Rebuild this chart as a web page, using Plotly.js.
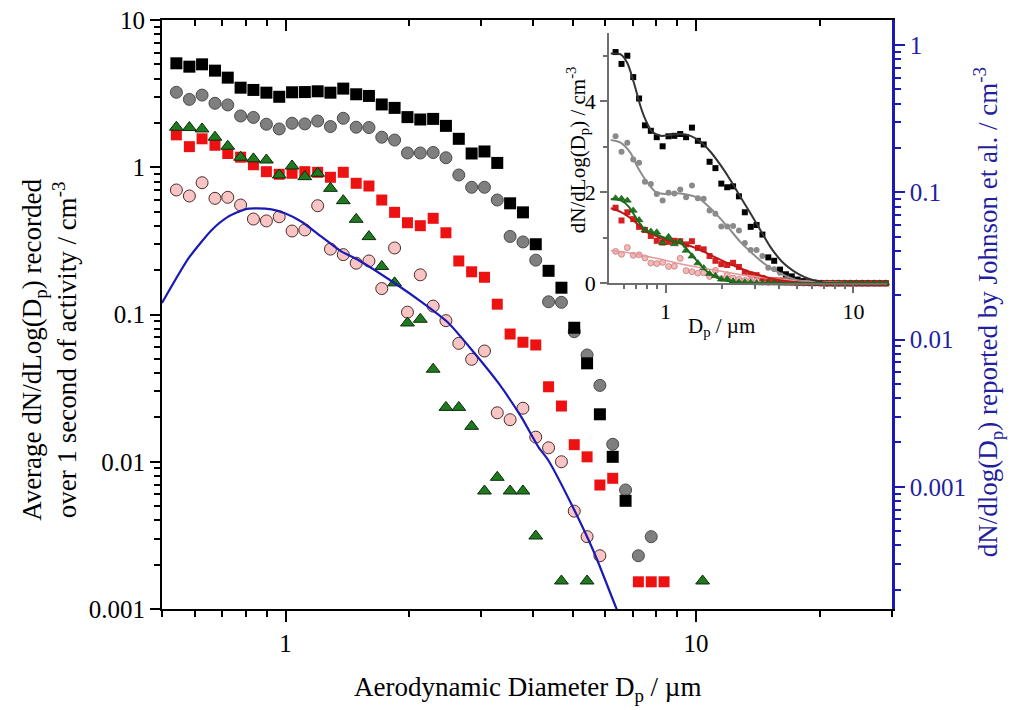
<!DOCTYPE html>
<html><head><meta charset="utf-8">
<script src="https://cdn.plot.ly/plotly-3.0.1.min.js"></script>
<style>html,body{margin:0;padding:0;background:#fff;font-family:'Liberation Serif'}#chart{width:1012px;height:710px}</style>
</head><body><div id="chart"></div>
<script>
// APS channel mid-point diameters (µm)
const channels = [0.542,0.583,0.626,0.673,0.723,0.777,0.835,0.898,0.965,1.037,1.114,1.197,1.286,1.382,1.486,1.596,1.715,1.843,1.981,2.129,2.288,2.458,2.642,2.839,3.051,3.278,3.523,3.786,4.068,4.371,4.698,5.048,5.425,5.829,6.264,6.732,7.234,7.774,8.354,8.977,9.647,10.37,11.14,11.97,12.86,13.82,14.86];

// dN/dLog(Dp) per channel (null = no count)
const blackSquares = [5.08,4.82,5.00,4.53,4.06,3.47,3.35,3.21,3.01,3.23,3.24,3.28,3.21,3.42,3.13,3.05,2.67,2.53,2.19,2.11,2.13,1.91,1.56,1.24,1.28,1.07,0.569,0.494,0.300,0.198,0.152,0.0813,0.0466,0.0210,0.0108,0.00543];
const grayCircles = [3.23,2.89,3.09,2.72,2.65,2.23,2.18,1.96,1.82,1.99,1.97,2.06,1.89,2.15,1.87,1.86,1.60,1.53,1.25,1.25,1.26,1.16,0.886,0.731,0.731,0.599,0.339,0.311,0.234,0.122,0.121,0.0764,0.0531,0.0330,0.01314,0.00643,0.0023,0.0031];
const redSquares = [1.66,1.38,1.56,1.41,1.24,1.17,1.04,0.933,0.896,0.910,0.933,0.924,0.855,0.924,0.778,0.746,0.599,0.494,0.420,0.401,0.450,0.359,0.231,0.195,0.179,0.1175,0.0737,0.0648,0.0621,0.0323,0.0239,0.01306,0.0108,0.00695,0.00772,null,0.00153,0.00153,0.00153];
const greenTriangles = [1.87,1.86,1.82,1.60,1.39,1.17,1.14,1.12,0.886,1.02,0.863,0.910,0.719,0.593,0.443,0.338,0.212,0.164,0.0876,0.0928,0.0425,0.0234,0.0234,0.0174,0.00633,0.00784,0.00633,0.00633,0.00313,null,0.00155,null,0.00155,null,null,null,null,null,null,null,null,0.00155];
const pinkCircles = [0.701,0.638,0.785,0.615,0.625,0.554,0.445,0.432,0.461,0.369,0.375,0.548,0.278,0.255,0.223,0.231,0.150,0.283,0.1037,0.186,0.114,0.0908,0.0637,0.0496,0.0565,0.0215,0.0193,0.0231,0.0147,0.01244,0.0100,0.00462,0.0031,0.0023];

// Johnson et al. distribution (right axis)
const johnsonX = [0.5,0.581,0.661,0.725,0.796,0.842,0.924,0.996,1.094,1.223,1.369,1.503,1.841,2.142,2.493,2.883,3.298,3.75,4.13,4.36,5.05,5.65,6.39,6.8];
const johnsonY = [0.0177,0.0358,0.0555,0.0683,0.0766,0.0778,0.0766,0.0720,0.0631,0.0499,0.0395,0.0347,0.0242,0.0180,0.01295,0.0081,0.00507,0.00298,0.00186,0.00152,0.000695,0.000355,0.00015,0.0001];

// Inset fitted curves (linear scale)
const fitBlackX = [0.511,0.577,0.626,0.679,0.737,0.783,0.850,0.941,1.063,1.201,1.358,1.534,1.734,1.959,2.213,2.50,2.83,3.195,3.61,4.25,5.43,6.93,10,15];
const fitBlackY = [5.05,5.03,4.84,4.40,3.88,3.59,3.33,3.24,3.26,3.28,3.24,3.11,2.89,2.60,2.27,1.90,1.54,1.17,0.80,0.44,0.145,0.02,0,0];
const fitGrayX = [0.511,0.577,0.652,0.708,0.783,0.885,1.0,1.153,1.33,1.50,1.70,1.92,2.17,2.50,2.89,3.33,3.92,5.0,6.93,10,15];
const fitGrayY = [3.15,3.09,2.86,2.56,2.27,2.01,1.96,1.98,1.94,1.87,1.68,1.46,1.21,0.91,0.66,0.44,0.255,0.07,0,0,0];
const fitRedX = [0.511,0.577,0.652,0.737,0.832,0.941,1.107,1.303,1.534,1.806,2.126,2.50,2.94,3.61,4.61,6.1,10,15];
const fitRedY = [1.65,1.57,1.43,1.24,1.10,0.99,0.91,0.84,0.73,0.585,0.45,0.33,0.22,0.11,0.035,0,0,0];
const fitGreenX = [0.511,0.577,0.638,0.708,0.783,0.904,1.063,1.201,1.358,1.534,1.734,1.959,2.31,2.83,5,10,15];
const fitGreenY = [1.85,1.82,1.68,1.39,1.17,1.06,0.95,0.88,0.66,0.40,0.20,0.09,0.03,0,0,0,0];
const fitPinkX = [0.511,0.708,0.98,1.358,1.88,2.606,3.61,5.0,7.52,12.3,15];
const fitPinkY = [0.72,0.64,0.51,0.38,0.28,0.18,0.11,0.06,0.02,0,0];

// Tick values / labels
const xMajor = [1,10], xMajorText = ['1','10'];
const xMinor = [0.5,0.6,0.7,0.8,0.9,2,3,4,5,6,7,8,9,20,30];
const yMajor = [0.001,0.01,0.1,1,10], yMajorText = ['0.001','0.01','0.1','1','10'];
const yMinor = [0.002,0.003,0.004,0.005,0.006,0.007,0.008,0.009,0.02,0.03,0.04,0.05,0.06,0.07,0.08,0.09,0.2,0.3,0.4,0.5,0.6,0.7,0.8,0.9,2,3,4,5,6,7,8,9];
const y2Major = [0.001,0.01,0.1,1], y2MajorText = ['0.001','0.01','0.1','1'];
const y2Minor = [0.0002,0.0003,0.0004,0.0005,0.0006,0.0007,0.0008,0.0009,0.002,0.003,0.004,0.005,0.006,0.007,0.008,0.009,0.02,0.03,0.04,0.05,0.06,0.07,0.08,0.09,0.2,0.3,0.4,0.5,0.6,0.7,0.8,0.9];
const insetXMajor = [1,10], insetXText = ['1','10'];
const insetXMinor = [0.6,0.7,0.8,0.9,2,3,4,5,6,7,8,9];
const insetYMajor = [0,2,4], insetYText = ['0','2','4'];
const insetYMinor = [1,3,5];

const FONT = 'Liberation Serif';
const BLUE = '#1a1ab4';

function mainSeries(vals, symbol, size, color, lineColor, lineWidth) {
  return {x: channels.slice(0, vals.length), y: vals, xaxis: 'x', yaxis: 'y', type: 'scatter', mode: 'markers',
    marker: {symbol: symbol, size: size, color: color, line: {color: lineColor, width: lineWidth}},
    hoverinfo: 'skip', showlegend: false, cliponaxis: false};
}
function insetSeries(vals, symbol, size, color, lineColor, lineWidth) {
  return {x: channels, y: channels.map((_, i) => (vals[i] == null ? 0 : vals[i])), xaxis: 'x3', yaxis: 'y3',
    type: 'scatter', mode: 'markers',
    marker: {symbol: symbol, size: size, color: color, line: {color: lineColor, width: lineWidth}},
    hoverinfo: 'skip', showlegend: false, cliponaxis: false};
}
function fitLine(xs, ys, color, width) {
  return {x: xs, y: ys, xaxis: 'x3', yaxis: 'y3', type: 'scatter', mode: 'lines',
    line: {color: color, width: width, shape: 'spline', smoothing: 0.8}, hoverinfo: 'skip', showlegend: false};
}

const traces = [
  mainSeries(grayCircles, 'circle', 12, '#7f7f7f', '#4a4a4a', 1),
  mainSeries(blackSquares, 'square', 12, '#000000', '#000000', 0),
  mainSeries(pinkCircles, 'circle', 12, '#f8c4c4', '#4d2b2b', 1),
  mainSeries(redSquares, 'square', 11, '#ee1111', '#ee1111', 0),
  mainSeries(greenTriangles, 'triangle-up', 12, '#1f7a1f', '#0a2a0a', 1),
  {x: johnsonX, y: johnsonY, xaxis: 'x2', yaxis: 'y2', type: 'scatter', mode: 'lines',
   line: {color: BLUE, width: 2.2, shape: 'spline', smoothing: 0.6}, hoverinfo: 'skip', showlegend: false},
  // inset
  insetSeries(pinkCircles, 'circle', 6, '#f3b8b8', '#c07070', 0.7),
  insetSeries(grayCircles, 'circle', 6, '#8a8a8a', '#8a8a8a', 0),
  insetSeries(blackSquares, 'square', 6, '#000000', '#000000', 0),
  insetSeries(redSquares, 'square', 6, '#d42020', '#d42020', 0),
  insetSeries(greenTriangles, 'triangle-up', 7, '#1d7a1d', '#0c3a0c', 0.5),
  fitLine(fitPinkX, fitPinkY, '#e49a9a', 1.6),
  fitLine(fitGrayX, fitGrayY, '#8c8c8c', 2),
  fitLine(fitBlackX, fitBlackY, '#333333', 2),
  fitLine(fitRedX, fitRedY, '#c01818', 2),
  fitLine(fitGreenX, fitGreenY, '#1a6e1a', 2)
];

const xRange = [Math.log10(0.5), Math.log10(30)];
const layout = {
  width: 1012, height: 710,
  margin: {l: 162, r: 120, t: 20, b: 101, pad: 0},
  paper_bgcolor: '#ffffff', plot_bgcolor: 'rgba(0,0,0,0)',
  font: {family: FONT, size: 22, color: '#000'},
  showlegend: false, hovermode: false,
  xaxis: {type: 'log', range: xRange, showline: true, linecolor: '#000', linewidth: 2, mirror: false,
    ticks: 'outside', ticklen: 11, tickwidth: 2, tickcolor: '#000', tickmode: 'array', tickvals: xMajor, ticktext: xMajorText,
    minor: {tickmode: 'array', tickvals: xMinor, ticks: 'outside', ticklen: 6, tickwidth: 2, tickcolor: '#000', showgrid: false},
    tickfont: {family: FONT, size: 25, color: '#000'}, showgrid: false, zeroline: false, anchor: 'y'},
  xaxis2: {type: 'log', range: xRange, overlaying: 'x', side: 'top', anchor: 'y2', showline: true, linecolor: '#000', linewidth: 2,
    ticks: 'inside', ticklen: 11, tickwidth: 2, tickcolor: '#000', tickmode: 'array', tickvals: xMajor, showticklabels: false,
    minor: {tickmode: 'array', tickvals: xMinor, ticks: 'inside', ticklen: 6, tickwidth: 2, tickcolor: '#000', showgrid: false},
    showgrid: false, zeroline: false},
  yaxis: {type: 'log', range: [-3, 1], showline: true, linecolor: '#000', linewidth: 2,
    ticks: 'outside', ticklen: 10, tickwidth: 2, tickcolor: '#000', tickmode: 'array', tickvals: yMajor, ticktext: yMajorText,
    minor: {tickmode: 'array', tickvals: yMinor, ticks: 'outside', ticklen: 6, tickwidth: 2, tickcolor: '#000', showgrid: false},
    tickfont: {family: FONT, size: 25, color: '#000'}, showgrid: false, zeroline: false, anchor: 'x'},
  yaxis2: {type: 'log', range: [-3.83, 0.17], overlaying: 'y', side: 'right', anchor: 'x2', showline: true, linecolor: BLUE, linewidth: 2.5,
    ticks: 'outside', ticklen: 10, tickwidth: 2, tickcolor: BLUE, tickmode: 'array', tickvals: y2Major, ticktext: y2MajorText,
    minor: {tickmode: 'array', tickvals: y2Minor, ticks: 'outside', ticklen: 6, tickwidth: 2, tickcolor: BLUE, showgrid: false},
    tickfont: {family: FONT, size: 25, color: '#1f1fa0'}, showgrid: false, zeroline: false},
  xaxis3: {type: 'log', domain: [0.6123, 0.9925], range: [Math.log10(0.5), Math.log10(15)], anchor: 'y3',
    showline: true, linecolor: '#6e6e6e', linewidth: 1.5, ticks: 'outside', ticklen: 8, tickwidth: 1.5, tickcolor: '#6e6e6e',
    tickmode: 'array', tickvals: insetXMajor, ticktext: insetXText,
    minor: {tickmode: 'array', tickvals: insetXMinor, ticks: 'outside', ticklen: 4, tickwidth: 1.5, tickcolor: '#6e6e6e', showgrid: false},
    tickfont: {family: FONT, size: 22, color: '#000'}, showgrid: false, zeroline: false},
  yaxis3: {domain: [0.553, 0.978], range: [0, 5.5], anchor: 'x3',
    showline: true, linecolor: '#6e6e6e', linewidth: 1.5, ticks: 'outside', ticklen: 7, tickwidth: 1.5, tickcolor: '#6e6e6e',
    tickmode: 'array', tickvals: insetYMajor, ticktext: insetYText,
    minor: {tickmode: 'array', tickvals: insetYMinor, ticks: 'outside', ticklen: 4, tickwidth: 1.5, tickcolor: '#6e6e6e', showgrid: false},
    tickfont: {family: FONT, size: 22, color: '#000'}, showgrid: false, zeroline: false},
  annotations: [
    {text: 'Aerodynamic Diameter D<sub>p</sub> / µm', xref: 'paper', yref: 'paper', x: 0.5, y: -0.1358,
     xanchor: 'center', yanchor: 'middle', showarrow: false, font: {family: FONT, size: 27, color: '#000'}},
    {text: 'Average dN/dLog(D<sub>p</sub>) recorded<br>over 1 second of activity / cm<sup>-3</sup>', xref: 'paper', yref: 'paper',
     x: -0.1534, y: 0.44, xanchor: 'center', yanchor: 'middle', textangle: -90, showarrow: false,
     font: {family: FONT, size: 27, color: '#000'}},
    {text: 'dN/dlog(D<sub>p</sub>) reported by Johnson et al. / cm<sup>-3</sup>', xref: 'paper', yref: 'paper',
     x: 1.1315, y: 0.504, xanchor: 'center', yanchor: 'middle', textangle: -90, showarrow: false,
     font: {family: FONT, size: 27, color: '#1f1fa0'}},
    {text: 'dN/dLog(D<sub>p</sub>) / cm<sup>-3</sup>', xref: 'paper', yref: 'paper',
     x: 0.5685, y: 0.779, xanchor: 'center', yanchor: 'middle', textangle: -90, showarrow: false,
     font: {family: FONT, size: 21, color: '#000'}},
    {text: 'D<sub>p</sub> / µm', xref: 'paper', yref: 'paper', x: 0.767, y: 0.4788,
     xanchor: 'center', yanchor: 'middle', showarrow: false, font: {family: FONT, size: 21, color: '#000'}}
  ]
};

Plotly.newPlot('chart', traces, layout, {displayModeBar: false});
</script>
</body></html>
